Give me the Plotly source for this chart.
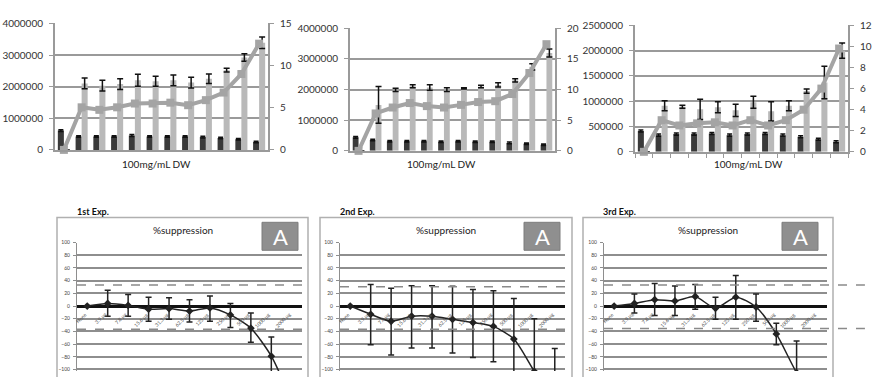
import plotly.graph_objects as go

W, H = 872, 377

# ---------------- top row: cell counts (bars) and ratio (line) ----------------
top_cats = ["Unstim", "None", "3.9", "7.8", "15.6", "31.3", "62.5", "125", "250", "500", "1000", "2000"]

dark1 = [610000, 425000, 425000, 425000, 455000, 425000, 425000, 425000, 405000, 375000, 335000, 250000]
dark1_err = [30000, 25000, 25000, 25000, 30000, 25000, 25000, 25000, 25000, 25000, 25000, 25000]
light1 = [0, 2100000, 2030000, 2080000, 2200000, 2170000, 2200000, 2130000, 2250000, 2520000, 2920000, 3390000]
light1_err = [None, 170000, 170000, 170000, 190000, 160000, 170000, 170000, 150000, 60000, 120000, 180000]
ratio1 = [0, 5.05, 4.75, 5.05, 5.5, 5.5, 5.6, 5.3, 5.9, 6.8, 9.0, 12.6]

dark2 = [440000, 356000, 310000, 310000, 310000, 300000, 310000, 300000, 300000, 260000, 230000, 200000]
dark2_err = [30000, 25000, 25000, 25000, 25000, 25000, 25000, 25000, 25000, 25000, 25000, 25000]
light2 = [0, 1500000, 1990000, 2110000, 2070000, 2000000, 2040000, 2100000, 2150000, 2300000, 2740000, 3190000]
light2_err = [None, 600000, 50000, 50000, 90000, 60000, 20000, 40000, 70000, 50000, 100000, 130000]
ratio2 = [0, 6.1, 7.07, 7.8, 7.3, 7.07, 7.5, 7.96, 8.1, 9.27, 12.7, 17.4]

dark3 = [410000, 330000, 350000, 350000, 360000, 330000, 350000, 360000, 330000, 300000, 250000, 200000]
dark3_err = [20000, 20000, 20000, 20000, 20000, 20000, 20000, 20000, 20000, 20000, 20000, 20000]
light3 = [0, 910000, 890000, 840000, 880000, 820000, 980000, 800000, 910000, 1200000, 1370000, 2000000]
light3_err = [None, 100000, 30000, 200000, 110000, 120000, 120000, 190000, 100000, 40000, 320000, 150000]
ratio3 = [0, 3.0, 2.5, 2.7, 2.8, 2.5, 3.0, 2.5, 3.0, 4.0, 6.0, 9.8]

left_max = [4000000, 4000000, 2500000]
left_step = [1000000, 1000000, 500000]
right_max = [15, 20, 12]
right_step = [5, 5, 2]
top_xtitle = "100mg/mL DW"

# ---------------- bottom row: % suppression ----------------
bot_cats = ["None", "3.9 μg", "7.8 μg", "15.6 μg", "31.3 μg", "62.5 μg",
            "125 μg", "250 μg", "500 μg", "1000 μg", "2000 μg"]

supp1 = [0, 4, 1, -5, -4, -8, -3, -14, -35, -79, -150]
supp1_up = [None, 21, 17, 19, 17, 18, 19, 18, 24, 30, 30]
supp1_dn = [None, 20, 17, 19, 17, 17, 21, 20, 22, 30, 30]

supp2 = [0, -13, -24, -16, -16, -21, -26, -32, -52, -103, -150]
supp2_up = [None, 47, 52, 48, 48, 52, 52, 56, 64, 83, 83]
supp2_dn = [None, 48, 53, 50, 50, 53, 55, 56, 64, 83, 83]

supp3 = [0, 4, 10, 8, 15, -3.5, 14, -1.5, -44, -105, -150]
supp3_up = [None, 15, 25.5, 23.5, 19, 17.5, 34, 20.5, 17, 50, None]
supp3_dn = [None, 15, 25, 23, 20, 17.5, 35, 22.5, 17, 50, None]

cut_hi = [33, 30.5, 33]
cut_lo = [-36.5, -36.5, -35.5]
exp_titles = ["1st Exp.", "2nd Exp.", "3rd Exp."]
panel_title = "%suppression"
panel_tag = "A"

FONT = "Lato, Open Sans, Arial"


def xdom(a, b):
    return [a / W, b / W]


def ydom(top, bottom):
    return [max(0.0, 1 - bottom / H), 1 - top / H]


def px(x):
    return x / W


def py(y):
    return 1 - y / H


fig = go.Figure()
layout = dict(
    width=W, height=H, margin=dict(l=0, r=0, t=0, b=0),
    paper_bgcolor="white", plot_bgcolor="white",
    showlegend=False, barmode="group", bargap=0.32, bargroupgap=0,
    font=dict(family=FONT, color="#333"),
    shapes=[], annotations=[],
)

# ---------- top panels ----------
top_boxes = [(55, 268, 17, 148), (350, 555, 22, 149), (635, 848, 19, 150)]
top_title_x = [156, 441, 748]
tops = [(dark1, dark1_err, light1, light1_err, ratio1),
        (dark2, dark2_err, light2, light2_err, ratio2),
        (dark3, dark3_err, light3, light3_err, ratio3)]

for i, (dk, dke, lt, lte, rt) in enumerate(tops):
    n = i + 1
    xa = "x" if n == 1 else f"x{n}"
    ya = "y" if n == 1 else f"y{n}"
    yr = f"y{n + 3}"
    x0, x1, t, b = top_boxes[i]

    fig.add_trace(go.Bar(x=top_cats, y=dk, xaxis=xa, yaxis=ya, marker_color="#3a3a3a",
                         marker_line_width=0,
                         error_y=dict(type="data", array=dke, color="#111",
                                      thickness=1.5, width=2.5)))
    fig.add_trace(go.Bar(x=top_cats, y=lt, xaxis=xa, yaxis=ya, marker_color="#b9b9b9",
                         marker_line_width=0,
                         error_y=dict(type="data", array=lte, color="#111",
                                      thickness=1.5, width=3)))
    fig.add_trace(go.Scatter(x=top_cats, y=rt, xaxis=xa, yaxis=yr, mode="lines+markers",
                             line=dict(color="#a4a4a4", width=4),
                             marker=dict(symbol="square", size=8, color="#a4a4a4"),
                             cliponaxis=False))

    xkey = "xaxis" if n == 1 else f"xaxis{n}"
    ykey = "yaxis" if n == 1 else f"yaxis{n}"
    layout[xkey] = dict(domain=xdom(x0, x1), anchor=ya, type="category",
                        categoryorder="array", categoryarray=top_cats,
                        range=[-0.5, len(top_cats) - 0.5],
                        showticklabels=False, showgrid=False, zeroline=False,
                        showline=True, linecolor="#9a9a9a", linewidth=2,
                        ticks="outside" if n == 3 else "", tickson="boundaries",
                        ticklen=4, tickcolor="#9a9a9a", tickwidth=1)
    layout[ykey] = dict(domain=ydom(t, b), anchor=xa, range=[0, left_max[i]],
                        dtick=left_step[i], tick0=0, tickformat="d",
                        showgrid=True, gridcolor="#9a9a9a", gridwidth=2,
                        zeroline=False, showline=True, linecolor="#9a9a9a", linewidth=2,
                        ticks="outside", ticklen=4, tickcolor="#9a9a9a",
                        tickfont=dict(size=10, color="#333"), ticklabelstandoff=4)
    layout[f"yaxis{n + 3}"] = dict(overlaying=ya, side="right", anchor=xa,
                                   range=[0, right_max[i]], dtick=right_step[i], tick0=0,
                                   showgrid=False, zeroline=False, showline=True,
                                   linecolor="#9a9a9a", linewidth=2,
                                   ticks="outside", ticklen=4, tickcolor="#9a9a9a",
                                   tickfont=dict(size=10, color="#333"), ticklabelstandoff=4)
    layout["annotations"].append(dict(text=top_xtitle, x=px(top_title_x[i]), y=py(163),
                                      xref="paper", yref="paper", showarrow=False,
                                      xanchor="center", yanchor="middle",
                                      font=dict(size=10, color="#222")))

# ---------- bottom panels ----------
bot_plot = [(77, 302), (340, 565), (604, 827)]
bot_frame = [(57, 308), (320, 572), (583, 833)]
title_x = [75, 338, 601]
tag_box = [(262, 298), (524, 560), (782, 818)]
dash_ext = [1.0, 1.0, 1.17]
bots = [(supp1, supp1_up, supp1_dn), (supp2, supp2_up, supp2_dn), (supp3, supp3_up, supp3_dn)]

for j, (sv, su, sd) in enumerate(bots):
    n = j + 4
    xa, ya = f"x{n}", f"y{n + 3}"
    x0, x1 = bot_plot[j]
    fx0, fx1 = bot_frame[j]

    fig.add_trace(go.Scatter(x=bot_cats, y=sv, xaxis=xa, yaxis=ya, mode="lines+markers",
                             line=dict(color="#222", width=1.5, shape="spline", smoothing=0.7),
                             marker=dict(symbol="diamond", size=6, color="#222"),
                             error_y=dict(type="data", symmetric=False, array=su, arrayminus=sd,
                                          color="#222", thickness=1.5, width=3)))

    layout[f"xaxis{n}"] = dict(domain=xdom(x0, x1), anchor=ya, type="category",
                               categoryorder="array", categoryarray=bot_cats,
                               range=[-0.5, len(bot_cats) - 0.5],
                               showticklabels=False, showgrid=False, zeroline=False,
                               showline=False)
    layout[f"yaxis{n + 3}"] = dict(domain=ydom(244, 377), anchor=xa, range=[-102.4, 100],
                                   tickvals=list(range(-100, 101, 20)),
                                   showgrid=True, gridcolor="#8e8e8e", gridwidth=1.5,
                                   zeroline=True, zerolinecolor="#111", zerolinewidth=3,
                                   showline=True, linecolor="#8e8e8e", linewidth=1,
                                   ticks="outside", ticklen=3, tickcolor="#8e8e8e",
                                   tickfont=dict(size=5, color="#444"), ticklabelstandoff=2)

    # mean +/- cutoff lines
    for v in (cut_hi[j], cut_lo[j]):
        layout["shapes"].append(dict(type="line", xref=f"{xa} domain", yref=ya,
                                     x0=0, x1=dash_ext[j], y0=v, y1=v,
                                     line=dict(color="#8a8a8a", width=1.5, dash="dash")))
    # frame around each panel
    layout["shapes"].append(dict(type="rect", xref="paper", yref="paper",
                                 x0=px(fx0), x1=px(fx1), y0=py(218), y1=py(390),
                                 line=dict(color="#b0b0b0", width=1.5)))
    # tag box
    tx0, tx1 = tag_box[j]
    layout["shapes"].append(dict(type="rect", xref="paper", yref="paper",
                                 x0=px(tx0), x1=px(tx1), y0=py(252), y1=py(223),
                                 fillcolor="#8f8f8f", line=dict(color="#7d7d7d", width=1)))
    layout["annotations"].append(dict(text=panel_tag, x=px((tx0 + tx1) / 2), y=py(238),
                                      xref="paper", yref="paper", showarrow=False,
                                      xanchor="center", yanchor="middle",
                                      font=dict(size=22, color="white", family=FONT)))
    layout["annotations"].append(dict(text=panel_title, x=px((fx0 + fx1) / 2), y=py(231),
                                      xref="paper", yref="paper", showarrow=False,
                                      xanchor="center", yanchor="middle",
                                      font=dict(size=10, color="#222")))
    layout["annotations"].append(dict(text="<b>" + exp_titles[j] + "</b>", x=px(title_x[j]),
                                      y=py(212), xref="paper", yref="paper", showarrow=False,
                                      xanchor="left", yanchor="middle",
                                      font=dict(size=9, color="#111")))
    # slanted category labels just under the zero line
    for c in bot_cats:
        layout["annotations"].append(dict(text=c, x=c, y=-4, xref=xa, yref=ya,
                                          showarrow=False, textangle=-45,
                                          xanchor="right", yanchor="top", xshift=3,
                                          font=dict(size=5, color="#555")))

fig.update_layout(**layout)
fig.write_html("out.html")
